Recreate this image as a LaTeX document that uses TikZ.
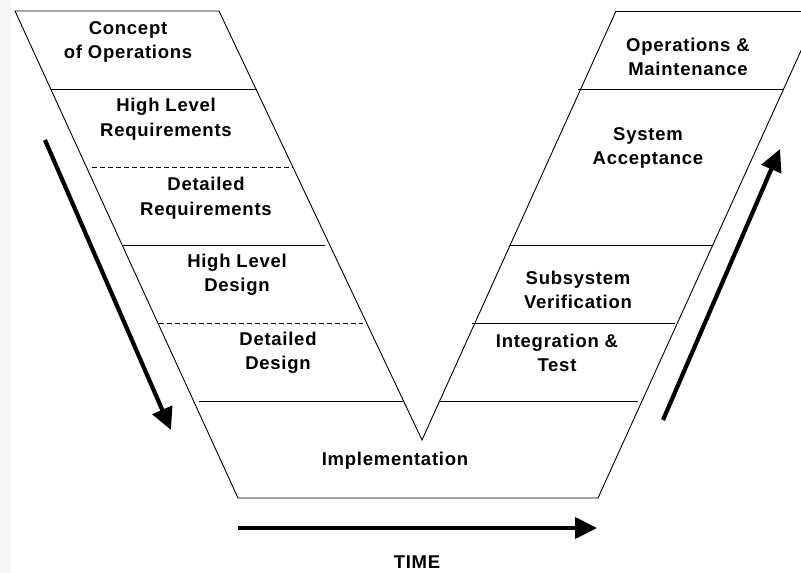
\documentclass[tikz,border=0pt]{standalone}
\usepackage{fontspec}
\setmainfont{Liberation Sans}[LetterSpace=4]
\usetikzlibrary{arrows.meta}
\begin{document}
\begin{tikzpicture}[x=1pt,y=-1pt,
  thin line/.style={line width=0.9pt,black},
  dash line/.style={line width=0.9pt,black,dash pattern=on 5pt off 3pt},
  big arrow/.style={line width=4.2pt,-{Triangle[length=22pt,width=21pt]}},
  lbl/.style={font=\fontsize{18.5}{24.5}\selectfont\bfseries,align=center,inner sep=0pt}]
\useasboundingbox (0,0) rectangle (801,573);
\fill[white] (0,0) rectangle (801,573);
\fill[black!3] (0,0) rectangle (11,573);
\begin{scope}
\clip (0,0) rectangle (801,573);
% corner coordinates
\coordinate (LOt) at (15,11);
\coordinate (LOb) at (238,498);
\coordinate (LIt) at (219,11);
\coordinate (Apex) at (422,440);
\coordinate (RIt) at (616,11);
\coordinate (ROb) at (598,498);
\coordinate (ROt) at (819,11);
% outline
\draw[thin line] (RIt) -- (Apex) -- (LIt) -- (LOt) -- (LOb) -- (ROb) -- (ROt);
\draw[thin line] (RIt) -- (ROt);
% left dividers
\coordinate (l1a) at (51,89);  \coordinate (l1b) at (257,89);
\coordinate (l2a) at (92,167); \coordinate (l2b) at (293,167);
\coordinate (l3a) at (123,245); \coordinate (l3b) at (325,245);
\coordinate (l4a) at (159,323); \coordinate (l4b) at (363,323);
\coordinate (l5a) at (199,401); \coordinate (l5b) at (403,401);
\draw[thin line] (l1a) -- (l1b);
\draw[dash line] (l2a) -- (l2b);
\draw[thin line] (l3a) -- (l3b);
\draw[dash line] (l4a) -- (l4b);
\draw[thin line] (l5a) -- (l5b);
% right dividers
\coordinate (r1a) at (578,89);  \coordinate (r1b) at (783,89);
\coordinate (r3a) at (510,245); \coordinate (r3b) at (712,245);
\coordinate (r4a) at (472,323); \coordinate (r4b) at (675,323);
\coordinate (r5a) at (440,401); \coordinate (r5b) at (638,401);
\draw[thin line] (r1a) -- (r1b);
\draw[thin line] (r3a) -- (r3b);
\draw[thin line] (r4a) -- (r4b);
\draw[thin line] (r5a) -- (r5b);
\end{scope}
% labels
\node[lbl] (conops) at (128,42) {Concept\\of Operations};
\node[lbl] (hlr) at (166,119) {High Level\\Requirements};
\node[lbl] (dr) at (206,198) {Detailed\\Requirements};
\node[lbl] (hld) at (237,275) {High Level\\Design};
\node[lbl] (dd) at (278,353) {Detailed\\Design};
\node[lbl] (impl) at (395,461) {Implementation};
\node[lbl] (om) at (688,57) {Operations \&\\Maintenance};
\node[lbl] (sa) at (648,148) {System\\Acceptance};
\node[lbl] (sv) at (578,290) {Subsystem\\Verification};
\node[lbl] (it) at (557,353) {Integration \&\\Test};
\node[lbl] (time) at (417,562) {TIME};
% arrows
\coordinate (a1s) at (45,140); \coordinate (a1e) at (171,430);
\coordinate (a2s) at (663,420); \coordinate (a2e) at (780,149);
\coordinate (a3s) at (238,528); \coordinate (a3e) at (597,528);
\draw[big arrow] (a1s) -- (a1e);
\draw[big arrow] (a2s) -- (a2e);
\draw[big arrow] (a3s) -- (a3e);
\end{tikzpicture}
\end{document}
